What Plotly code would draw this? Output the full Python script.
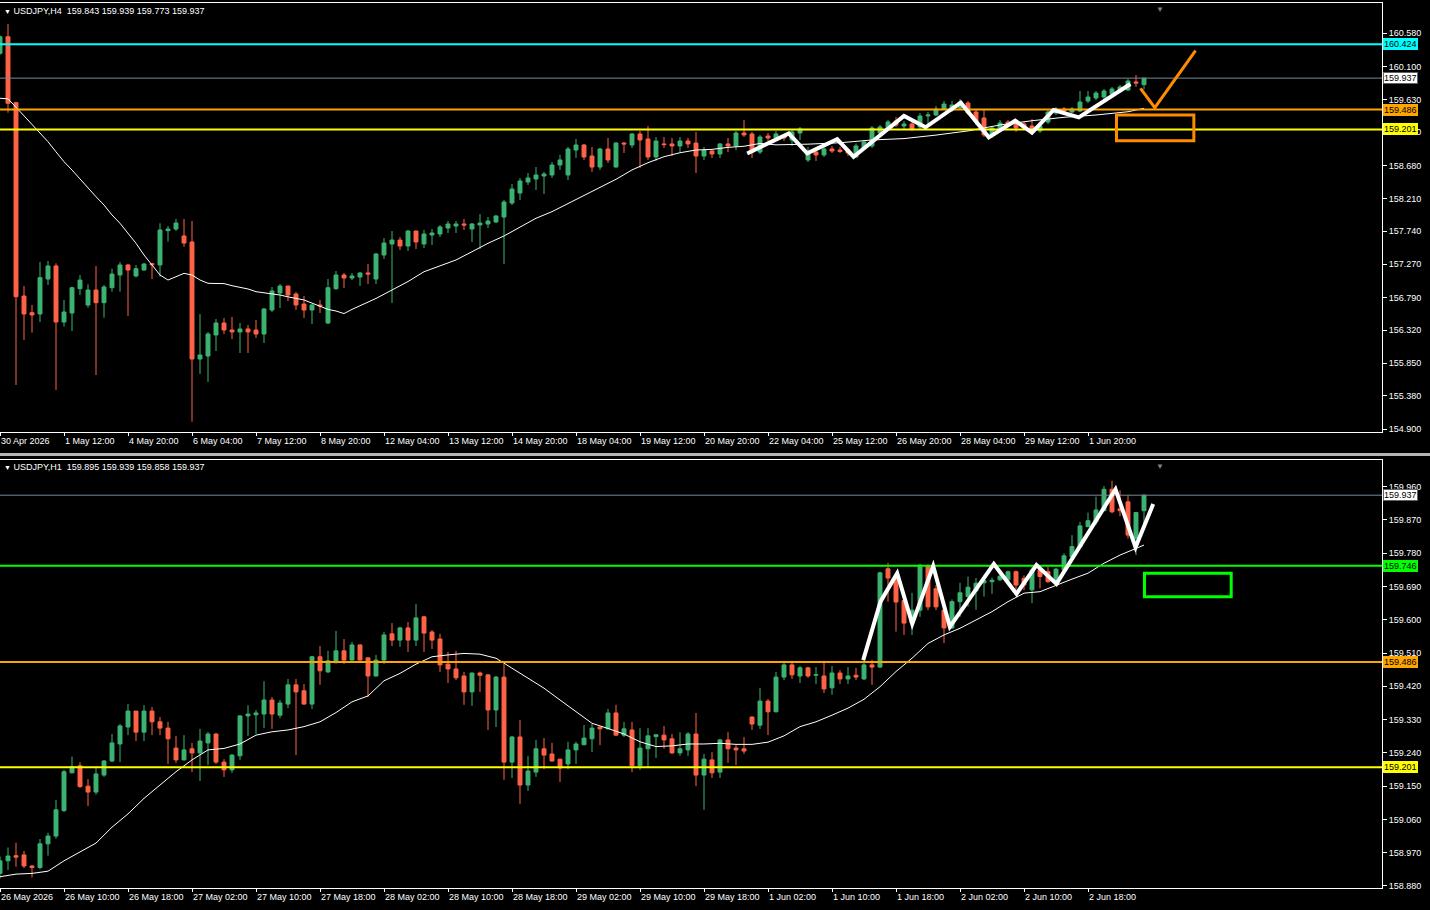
import plotly.graph_objects as go

# ---------------- USDJPY H4 (top panel) ----------------
h4_open = [160.293, 160.531, 159.585, 156.812, 156.573, 156.554, 157.056, 157.243, 156.439, 156.568,
           156.917, 156.683, 156.898, 156.716, 156.931, 157.113, 157.257, 157.099, 157.185, 157.276,
           157.257, 157.749, 157.773, 157.673, 157.587, 155.908, 155.951, 156.253, 156.425, 156.324,
           156.296, 156.339, 156.324, 156.267, 156.611, 156.855, 156.955, 156.841, 156.697, 156.611,
           156.683, 156.425, 156.917, 157.113, 157.070, 157.085, 157.142, 157.056, 157.400, 157.558,
           157.615, 157.529, 157.744, 157.558, 157.687, 157.701, 157.787, 157.816, 157.845, 157.773,
           157.830, 157.845, 157.873, 157.945, 158.146, 158.289, 158.447, 158.490, 158.533, 158.548,
           158.691, 158.548, 158.906, 158.978, 158.820, 158.662, 158.921, 158.662, 159.006, 158.978,
           159.136, 159.064, 158.806, 158.993, 158.993, 158.964, 159.035, 159.006, 158.820, 158.892,
           158.849, 158.993, 158.964, 159.150, 159.136, 158.877, 159.107, 159.078, 159.107, 159.050,
           159.150, 158.763, 158.877, 158.835, 158.921, 158.906, 158.906, 158.806, 158.935, 158.964,
           159.150, 159.222, 159.322, 159.250, 159.279, 159.236, 159.394, 159.408, 159.494, 159.480,
           159.508, 159.580, 159.451, 159.365, 159.122, 159.208, 159.308, 159.293, 159.279, 159.250,
           159.179, 159.308, 159.437, 159.494, 159.451, 159.465, 159.609, 159.652, 159.666, 159.709,
           159.752, 159.767, 159.882, 159.843]
h4_high = [160.550, 160.713, 159.599, 156.955, 156.683, 157.300, 157.314, 157.281, 156.755, 156.945,
           157.113, 156.980, 157.243, 156.970, 157.204, 157.300, 157.271, 157.257, 157.286, 157.286,
           157.855, 157.816, 157.917, 157.917, 157.888, 156.554, 156.296, 156.482, 156.497, 156.511,
           156.425, 156.396, 156.468, 156.640, 156.941, 156.984, 156.960, 156.870, 156.812, 156.697,
           156.755, 157.056, 157.171, 157.142, 157.142, 157.156, 157.271, 157.429, 157.644, 157.744,
           157.658, 157.759, 157.750, 157.759, 157.773, 157.830, 157.888, 157.888, 157.917, 157.859,
           157.988, 157.945, 157.974, 158.189, 158.418, 158.505, 158.576, 158.662, 158.591, 158.734,
           158.835, 158.950, 159.064, 158.993, 158.950, 158.935, 159.078, 159.021, 159.021, 159.150,
           159.179, 159.250, 159.093, 159.093, 159.078, 159.093, 159.078, 159.165, 158.950, 158.906,
           159.006, 159.078, 159.179, 159.336, 159.165, 159.122, 159.150, 159.179, 159.136, 159.193,
           159.236, 158.950, 158.906, 158.950, 158.964, 158.950, 158.935, 159.000, 159.050, 159.250,
           159.265, 159.336, 159.379, 159.322, 159.308, 159.437, 159.451, 159.537, 159.609, 159.609,
           159.638, 159.609, 159.480, 159.494, 159.250, 159.336, 159.336, 159.322, 159.308, 159.351,
           159.279, 159.480, 159.523, 159.523, 159.523, 159.752, 159.752, 159.752, 159.781, 159.810,
           159.838, 159.924, 159.982, 159.939]
h4_low = [160.270, 159.441, 155.536, 156.181, 156.286, 156.439, 156.970, 155.464, 156.372, 156.310,
          156.826, 156.644, 155.679, 156.501, 156.874, 156.874, 156.525, 157.080, 157.175, 157.056,
          157.089, 157.591, 157.744, 157.519, 155.009, 155.693, 155.579, 156.023, 156.267, 156.195,
          155.994, 155.994, 156.210, 156.138, 156.583, 156.640, 156.740, 156.611, 156.497, 156.410,
          156.568, 156.410, 156.898, 156.927, 157.041, 156.955, 156.984, 156.984, 157.343, 156.712,
          157.472, 157.458, 157.486, 157.501, 157.544, 157.658, 157.716, 157.716, 157.759, 157.587,
          157.486, 157.787, 157.859, 157.271, 158.117, 158.189, 158.404, 158.332, 158.275, 158.505,
          158.620, 158.476, 158.791, 158.763, 158.591, 158.620, 158.720, 158.655, 158.863, 158.935,
          158.648, 158.763, 158.748, 158.935, 158.820, 158.877, 158.935, 158.576, 158.763, 158.791,
          158.791, 158.877, 158.906, 159.093, 158.791, 158.849, 159.035, 159.050, 159.035, 158.964,
          159.050, 158.734, 158.748, 158.806, 158.863, 158.863, 158.820, 158.791, 158.906, 158.935,
          159.122, 159.193, 159.236, 159.193, 159.179, 159.208, 159.265, 159.394, 159.480, 159.451,
          159.480, 159.408, 159.265, 159.093, 159.079, 159.179, 159.236, 159.165, 159.193, 159.122,
          159.150, 159.279, 159.408, 159.437, 159.437, 159.451, 159.580, 159.623, 159.638, 159.680,
          159.723, 159.752, 159.810, 159.773]
h4_close = [160.531, 159.576, 156.802, 156.554, 156.540, 157.075, 157.243, 156.439, 156.583, 156.931,
            157.041, 156.898, 156.716, 156.941, 157.127, 157.257, 157.185, 157.204, 157.271, 157.261,
            157.759, 157.773, 157.859, 157.572, 155.908, 155.966, 156.267, 156.425, 156.324, 156.296,
            156.339, 156.296, 156.267, 156.626, 156.884, 156.955, 156.826, 156.683, 156.611, 156.683,
            156.669, 156.931, 157.113, 157.070, 157.099, 157.142, 157.128, 157.415, 157.572, 157.615,
            157.529, 157.744, 157.587, 157.701, 157.716, 157.802, 157.845, 157.845, 157.830, 157.845,
            157.859, 157.888, 157.960, 158.160, 158.347, 158.462, 158.505, 158.548, 158.562, 158.691,
            158.763, 158.921, 158.978, 158.806, 158.662, 158.921, 158.763, 159.006, 158.993, 159.136,
            159.050, 158.806, 159.035, 158.983, 158.964, 159.035, 158.993, 158.820, 158.906, 158.849,
            158.993, 158.964, 159.150, 159.122, 158.877, 159.093, 159.078, 159.136, 159.078, 159.165,
            159.208, 158.863, 158.835, 158.921, 158.892, 158.885, 158.863, 158.964, 159.021, 159.222,
            159.236, 159.308, 159.265, 159.279, 159.208, 159.394, 159.408, 159.494, 159.566, 159.551,
            159.595, 159.437, 159.308, 159.122, 159.222, 159.293, 159.265, 159.222, 159.222, 159.165,
            159.250, 159.451, 159.494, 159.465, 159.494, 159.595, 159.666, 159.723, 159.752, 159.781,
            159.810, 159.896, 159.867, 159.937]

h4_ma_bar = list(range(0, 48)) + list(range(49, 96, 2)) + list(range(97, 142, 4)) + [143]
h4_ma = [159.648, 159.640, 159.520, 159.394, 159.265, 159.146, 159.025, 158.880, 158.738, 158.619,
         158.486, 158.357, 158.236, 158.117, 157.974, 157.855, 157.711, 157.568, 157.400, 157.257,
         157.113, 157.041, 157.089, 157.137, 157.113, 157.041, 156.994, 156.994, 156.990, 156.960,
         156.937, 156.913, 156.874, 156.860, 156.840, 156.826, 156.800, 156.777, 156.755, 156.710,
         156.660, 156.620, 156.597, 156.560, 156.620, 156.670, 156.716, 156.777,
         156.898, 157.020, 157.160, 157.243, 157.329, 157.447, 157.568, 157.673, 157.800, 157.927,
         158.022, 158.140, 158.260, 158.370, 158.486, 158.620, 158.724, 158.810, 158.867, 158.906,
         158.915, 158.944, 158.960, 159.000,
         158.980, 158.990, 159.010, 159.050, 159.070, 159.120, 159.180, 159.265, 159.326, 159.375,
         159.408, 159.455, 159.504]

h4_dates = ["30 Apr 2026", "1 May 12:00", "4 May 20:00", "6 May 04:00", "7 May 12:00", "8 May 20:00",
            "12 May 04:00", "13 May 12:00", "14 May 20:00", "18 May 04:00", "19 May 12:00",
            "20 May 20:00", "22 May 04:00", "25 May 12:00", "26 May 20:00", "28 May 04:00",
            "29 May 12:00", "1 Jun 20:00"]
h4_yticks = [160.58, 160.10, 159.63, 159.16, 158.68, 158.21, 157.74, 157.27, 156.79, 156.32,
             155.85, 155.38, 154.90]
h4_levels = [160.424, 159.937, 159.486, 159.201]
h4_level_colors = ["#00FFFF", "#778899", "#FFA500", "#FFFF00"]
h4_zigzag_bar = [93.4, 98.6, 100.9, 104.65, 106.7, 113.0, 115.7, 120.1, 123.6, 126.9, 129.0, 131.7,
                 134.85, 141.3]
h4_zigzag = [158.857, 159.145, 158.857, 159.060, 158.810, 159.394, 159.232, 159.585, 159.088,
             159.326, 159.154, 159.480, 159.375, 159.853]
h4_check_bar = [142.56, 144.35, 149.44]
h4_check = [159.790, 159.514, 160.330]
h4_box_bar = [139.56, 149.23]
h4_box = [159.040, 159.408]

# ---------------- USDJPY H1 (bottom panel) ----------------
h1_open = [158.914, 158.948, 158.962, 158.964, 158.934, 158.930, 158.994, 159.015, 159.084, 159.186,
           159.205, 159.150, 159.134, 159.180, 159.218, 159.264, 159.310, 159.353, 159.296, 159.353,
           159.324, 159.307, 159.253, 159.221, 159.251, 159.240, 159.267, 159.291, 159.215, 159.194,
           159.232, 159.340, 159.343, 159.345, 159.383, 159.342, 159.372, 159.424, 159.408, 159.372,
           159.500, 159.459, 159.484, 159.516, 159.491, 159.532, 159.497, 159.448, 159.491, 159.562,
           159.545, 159.578, 159.545, 159.608, 159.567, 159.548, 159.480, 159.467, 159.448, 159.405,
           159.456, 159.451, 159.356, 159.445, 159.215, 159.283, 159.153, 159.188, 159.251, 159.237,
           159.223, 159.210, 159.248, 159.262, 159.278, 159.310, 159.305, 159.348, 159.288, 159.302,
           159.205, 159.251, 159.284, 159.288, 159.278, 159.240, 159.248, 159.291, 159.180, 159.221,
           159.188, 159.275, 159.253, 159.251, 159.337, 159.315, 159.380, 159.351, 159.445, 159.478,
           159.448, 159.470, 159.450, 159.448, 159.416, 159.456, 159.440, 159.450, 159.440, 159.478,
           159.472, 159.738, 159.716, 159.652, 159.591, 159.626, 159.744, 159.684, 159.626, 159.578,
           159.649, 159.663, 159.678, 159.700, 159.703, 159.708, 159.708, 159.730, 159.712, 159.681,
           159.735, 159.730, 159.703, 159.735, 159.770, 159.797, 159.852, 159.865, 159.895, 159.953,
           159.900, 159.919, 159.820, 159.895]
h1_high = [158.960, 158.984, 158.997, 158.975, 158.936, 159.007, 159.024, 159.113, 159.194, 159.230,
           159.215, 159.169, 159.203, 159.221, 159.291, 159.318, 159.372, 159.353, 159.369, 159.364,
           159.337, 159.324, 159.286, 159.288, 159.267, 159.305, 159.297, 159.294, 159.223, 159.237,
           159.342, 159.369, 159.356, 159.434, 159.391, 159.383, 159.440, 159.440, 159.426, 159.502,
           159.529, 159.516, 159.570, 159.548, 159.540, 159.533, 159.497, 159.505, 159.567, 159.591,
           159.581, 159.594, 159.643, 159.610, 159.572, 159.562, 159.513, 159.516, 159.459, 159.457,
           159.460, 159.452, 159.448, 159.480, 159.286, 159.329, 159.232, 159.275, 159.280, 159.267,
           159.224, 159.270, 159.270, 159.315, 159.318, 159.310, 159.359, 159.370, 159.324, 159.324,
           159.307, 159.307, 159.290, 159.313, 159.291, 159.296, 159.296, 159.348, 159.237, 159.242,
           159.278, 159.296, 159.261, 159.283, 159.338, 159.416, 159.386, 159.459, 159.489, 159.489,
           159.475, 159.473, 159.472, 159.489, 159.475, 159.464, 159.472, 159.470, 159.491, 159.491,
           159.730, 159.754, 159.727, 159.663, 159.673, 159.750, 159.750, 159.694, 159.640, 159.655,
           159.700, 159.717, 159.713, 159.717, 159.714, 159.725, 159.733, 159.733, 159.720, 159.743,
           159.740, 159.743, 159.740, 159.780, 159.829, 159.865, 159.890, 159.933, 159.962, 159.976,
           159.950, 159.937, 159.892, 159.939]
h1_low = [158.900, 158.923, 158.932, 158.928, 158.903, 158.925, 158.962, 159.008, 159.080, 159.185,
          159.145, 159.096, 159.127, 159.175, 159.215, 159.215, 159.288, 159.272, 159.272, 159.288,
          159.288, 159.210, 159.213, 159.219, 159.188, 159.164, 159.207, 159.210, 159.175, 159.186,
          159.221, 159.286, 159.291, 159.307, 159.305, 159.334, 159.361, 159.234, 159.370, 159.359,
          159.424, 159.456, 159.482, 159.480, 159.490, 159.490, 159.391, 159.446, 159.480, 159.529,
          159.527, 159.513, 159.529, 159.513, 159.521, 159.459, 159.429, 159.437, 159.370, 159.367,
          159.405, 159.302, 159.310, 159.167, 159.172, 159.102, 159.137, 159.175, 159.196, 159.216,
          159.161, 159.196, 159.210, 159.261, 159.242, 159.261, 159.304, 159.287, 159.283, 159.188,
          159.194, 159.199, 159.226, 159.251, 159.237, 159.232, 159.232, 159.150, 159.086, 159.172,
          159.172, 159.213, 159.207, 159.237, 159.302, 159.305, 159.288, 159.350, 159.437, 159.440,
          159.429, 159.443, 159.426, 159.402, 159.397, 159.426, 159.426, 159.437, 159.437, 159.424,
          159.470, 159.649, 159.568, 159.559, 159.559, 159.608, 159.626, 159.626, 159.537, 159.575,
          159.608, 159.636, 159.627, 159.663, 159.670, 159.705, 159.700, 159.681, 159.680, 159.645,
          159.685, 159.700, 159.700, 159.733, 159.768, 159.796, 159.850, 159.857, 159.894, 159.888,
          159.880, 159.820, 159.775, 159.858]
h1_close = [158.948, 158.961, 158.958, 158.934, 158.930, 158.994, 159.015, 159.086, 159.189, 159.203,
            159.149, 159.134, 159.183, 159.218, 159.267, 159.313, 159.353, 159.296, 159.353, 159.324,
            159.307, 159.278, 159.221, 159.248, 159.240, 159.272, 159.291, 159.215, 159.194, 159.234,
            159.340, 159.345, 159.348, 159.383, 159.345, 159.375, 159.424, 159.405, 159.372, 159.500,
            159.462, 159.489, 159.516, 159.491, 159.532, 159.491, 159.448, 159.491, 159.559, 159.545,
            159.578, 159.545, 159.605, 159.564, 159.545, 159.478, 159.467, 159.443, 159.405, 159.456,
            159.450, 159.356, 159.445, 159.215, 159.283, 159.153, 159.191, 159.251, 159.234, 159.218,
            159.199, 159.248, 159.264, 159.280, 159.307, 159.305, 159.348, 159.288, 159.305, 159.205,
            159.253, 159.286, 159.289, 159.275, 159.240, 159.251, 159.291, 159.180, 159.223, 159.186,
            159.275, 159.251, 159.248, 159.245, 159.318, 159.380, 159.351, 159.445, 159.478, 159.451,
            159.470, 159.448, 159.452, 159.413, 159.456, 159.440, 159.448, 159.445, 159.478, 159.472,
            159.727, 159.713, 159.648, 159.591, 159.626, 159.748, 159.635, 159.635, 159.578, 159.649,
            159.673, 159.688, 159.699, 159.706, 159.707, 159.718, 159.730, 159.694, 159.694, 159.735,
            159.717, 159.703, 159.737, 159.773, 159.798, 159.854, 159.868, 159.897, 159.953, 159.892,
            159.895, 159.829, 159.890, 159.937]

h1_ma_bar = list(range(0, 143, 2)) + [143]
h1_ma = [158.905, 158.912, 158.914, 158.920, 158.948, 158.973, 158.996, 159.039, 159.075, 159.117,
         159.153, 159.189, 159.221, 159.248, 159.252, 159.264, 159.288, 159.297, 159.302, 159.311,
         159.324, 159.349, 159.378, 159.394, 159.435, 159.455, 159.480, 159.500, 159.505, 159.509,
         159.507, 159.496, 159.469, 159.442, 159.415, 159.383, 159.351, 159.320, 159.306, 159.291,
         159.270, 159.257, 159.259, 159.264, 159.264, 159.266, 159.263, 159.263, 159.269, 159.286,
         159.311, 159.324, 159.342, 159.361, 159.385, 159.419, 159.460, 159.496, 159.536, 159.559,
         159.577, 159.600, 159.622, 159.649, 159.672, 159.676, 159.694, 159.710, 159.726, 159.753,
         159.775, 159.793, 159.802]

h1_dates = ["26 May 2026", "26 May 10:00", "26 May 18:00", "27 May 02:00", "27 May 10:00",
            "27 May 18:00", "28 May 02:00", "28 May 10:00", "28 May 18:00", "29 May 02:00",
            "29 May 10:00", "29 May 18:00", "1 Jun 02:00", "1 Jun 10:00", "1 Jun 18:00",
            "2 Jun 02:00", "2 Jun 10:00", "2 Jun 18:00"]
h1_yticks = [159.96, 159.87, 159.78, 159.69, 159.60, 159.51, 159.42, 159.33, 159.24, 159.15,
             159.06, 158.97, 158.88]
h1_levels = [159.937, 159.746, 159.486, 159.201]
h1_level_colors = ["#778899", "#00FF00", "#FFA500", "#FFFF00"]
h1_zigzag_bar = [107.9, 110.06, 112.15, 114.03, 116.65, 118.73, 124.23, 127.06, 129.56, 132.06,
                 139.44, 141.94, 144.15]
h1_zigzag = [159.491, 159.649, 159.726, 159.589, 159.745, 159.581, 159.751, 159.670, 159.748,
             159.697, 159.953, 159.796, 159.913]
h1_box_bar = [143.06, 153.90]
h1_box = [159.662, 159.726]

UP = "#3CB371"
DOWN = "#FF6347"
FONT = "Liberation Sans"

fig = go.Figure()


def add_panel(o, h, l, c, ma_bar, ma, xa, ya):
    fig.add_trace(go.Candlestick(
        x=list(range(len(o))), open=o, high=h, low=l, close=c,
        xaxis=xa, yaxis=ya, whiskerwidth=0,
        increasing=dict(line=dict(color=UP, width=1), fillcolor=UP),
        decreasing=dict(line=dict(color=DOWN, width=1), fillcolor=DOWN),
        showlegend=False, hoverinfo="skip"))
    fig.add_trace(go.Scatter(x=ma_bar, y=ma, mode="lines", xaxis=xa, yaxis=ya,
                             line=dict(color="white", width=1), showlegend=False,
                             hoverinfo="skip"))


add_panel(h4_open, h4_high, h4_low, h4_close, h4_ma_bar, h4_ma, "x", "y")
add_panel(h1_open, h1_high, h1_low, h1_close, h1_ma_bar, h1_ma, "x2", "y2")

shapes = []
annos = []


def levels(vals, cols, yref):
    for v, col in zip(vals, cols):
        w = 1 if col == "#778899" else 2
        shapes.append(dict(type="line", xref="paper", x0=0, x1=1, yref=yref, y0=v, y1=v,
                           line=dict(color=col, width=w)))
        bg = "white" if col == "#778899" else col
        annos.append(dict(xref="paper", x=1, xanchor="left", xshift=1, yref=yref, y=v,
                          text=f"{v:.3f}", showarrow=False, bgcolor=bg, borderpad=0,
                          bordercolor="#606060" if bg == "white" else bg, borderwidth=1,
                          font=dict(family=FONT, size=9, color="black")))


def polyline(xs, ys, xref, yref, color, width):
    path = "M " + " L ".join(f"{x},{y}" for x, y in zip(xs, ys))
    shapes.append(dict(type="path", path=path, xref=xref, yref=yref,
                       line=dict(color=color, width=width)))


levels(h4_levels, h4_level_colors, "y")
levels(h1_levels, h1_level_colors, "y2")
polyline(h4_zigzag_bar, h4_zigzag, "x", "y", "white", 4)
polyline(h4_check_bar, h4_check, "x", "y", "#FF8C00", 3)
shapes.append(dict(type="rect", xref="x", yref="y", x0=h4_box_bar[0], x1=h4_box_bar[1],
                   y0=h4_box[0], y1=h4_box[1], line=dict(color="#FF8C00", width=3)))
polyline(h1_zigzag_bar, h1_zigzag, "x2", "y2", "white", 4)
shapes.append(dict(type="rect", xref="x2", yref="y2", x0=h1_box_bar[0], x1=h1_box_bar[1],
                   y0=h1_box[0], y1=h1_box[1], line=dict(color="#00FF00", width=3)))

# window separator between the two charts
shapes.append(dict(type="rect", xref="paper", yref="paper", x0=-0.01, x1=1.05,
                   y0=0.4881, y1=0.4915, fillcolor="#B4B4B4", line=dict(width=0)))

# chart headers
for text, yp in [("USDJPY,H4\u00a0\u00a0159.843 159.939 159.773 159.937", 0.9915),
                 ("USDJPY,H1\u00a0\u00a0159.895 159.939 159.858 159.937", 0.4757)]:
    annos.append(dict(xref="paper", x=0, xanchor="left", xshift=2, yref="paper", y=yp,
                      yanchor="middle",
                      text="<span style='font-size:7px'>\u25bc</span>\u00a0" + text,
                      showarrow=False, font=dict(family=FONT, size=9, color="white")))
# chart shift markers
for xr, yp in [("x", 1.0), ("x2", 0.4836)]:
    annos.append(dict(xref=xr, x=145, yref="paper", y=yp, yanchor="top", text="\u25bc",
                      showarrow=False, font=dict(size=8, color="#808080")))

xcommon = dict(range=[0, 172.75], showgrid=False, zeroline=False, showline=True, mirror=True,
               linecolor="white", linewidth=1, ticks="outside", ticklen=3, tickcolor="white",
               ticklabelposition="outside right", rangeslider=dict(visible=False),
               tickfont=dict(family=FONT, size=9, color="white"), fixedrange=True)
ycommon = dict(side="right", showgrid=False, zeroline=False, showline=True, mirror=True,
               linecolor="white", linewidth=1, ticks="outside", ticklen=4, tickcolor="white",
               tickformat=".3f", tickfont=dict(family=FONT, size=9, color="white"),
               fixedrange=True)

fig.update_layout(
    width=1430, height=910,
    margin=dict(l=0, r=48, t=3, b=22),
    paper_bgcolor="black", plot_bgcolor="black",
    font=dict(family=FONT, size=9, color="white"),
    showlegend=False, hovermode=False,
    xaxis=dict(xcommon, anchor="y", domain=[0, 1],
               tickvals=list(range(0, 8 * len(h4_dates), 8)), ticktext=h4_dates),
    yaxis=dict(ycommon, anchor="x", domain=[0.51525, 1], range=[154.8614, 161.0146],
               tickvals=h4_yticks),
    xaxis2=dict(xcommon, anchor="y2", domain=[0, 1],
                tickvals=list(range(0, 8 * len(h1_dates), 8)), ticktext=h1_dates),
    yaxis2=dict(ycommon, anchor="x2", domain=[0, 0.48362], range=[158.8745, 160.0322],
                tickvals=h1_yticks),
    shapes=shapes, annotations=annos,
)

fig.write_html("out.html", config={"displayModeBar": False},
               post_script="document.body.style.margin='0';document.body.style.overflow='hidden';")
